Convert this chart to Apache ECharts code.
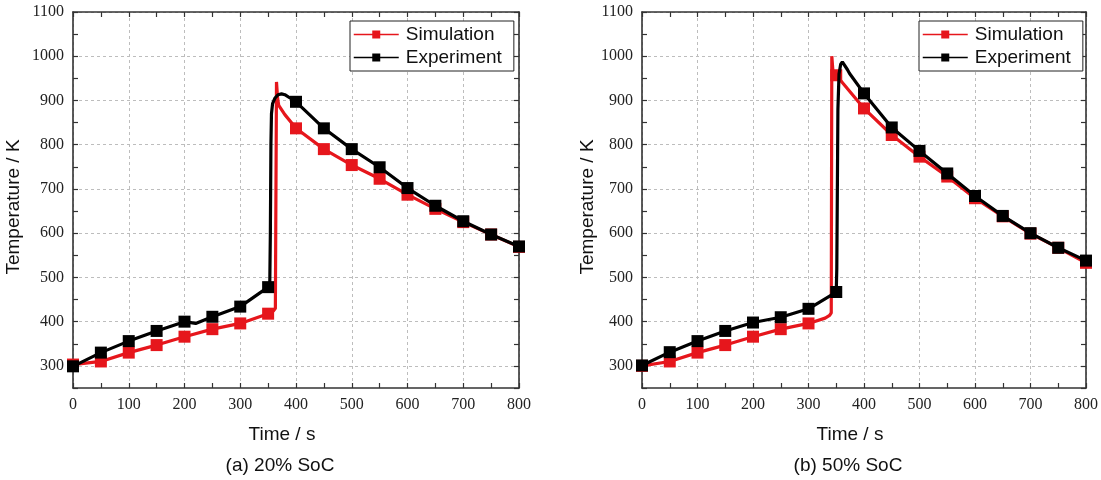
<!DOCTYPE html>
<html>
<head>
<meta charset="utf-8">
<script src="https://cdn.jsdelivr.net/npm/echarts@6/dist/echarts.min.js"></script>
<style>
  html, body { margin: 0; padding: 0; background: #fff; }
  #chart { width: 1101px; height: 480px; }
</style>
</head>
<body>
<div id="chart"></div>
<script>
// ---- data: temperature (K) vs time (s); square markers every 50 s ----
// (a) 20% SoC
const simA_time = [0, 50, 100, 150, 200, 250, 300, 350, 355, 360, 363, 365, 367, 369, 380, 400, 450, 500, 550, 600, 650, 700, 750, 800];
const simA_temp = [303, 310, 330, 347, 366, 383, 396, 418, 421, 425, 430, 942, 905, 889, 868, 837, 790, 754, 723, 687, 655, 625, 597, 569];
const expA_time = [0, 50, 100, 150, 200, 220, 250, 300, 350, 353, 354, 355, 356, 358, 362, 368, 374, 380, 390, 400, 450, 500, 550, 600, 650, 700, 750, 800];
const expA_temp = [299, 330, 356, 379, 400, 396, 411, 434, 478, 490, 600, 800, 870, 893, 905, 913, 915, 913, 905, 897, 837, 790, 749, 702, 662, 627, 597, 570];
// (b) 50% SoC
const simB_time = [0, 50, 100, 150, 200, 250, 300, 330, 338, 341, 342, 345, 350, 400, 450, 500, 550, 600, 650, 700, 750, 800];
const simB_temp = [300, 310, 330, 347, 366, 383, 396, 408, 414, 420, 1000, 950, 957, 882, 822, 773, 728, 679, 638, 599, 567, 533];
const expB_time = [0, 50, 100, 150, 200, 250, 300, 350, 351, 352, 353, 355, 358, 361, 364, 370, 374, 400, 450, 500, 550, 600, 650, 700, 750, 800];
const expB_temp = [301, 331, 356, 379, 398, 410, 429, 467, 520, 700, 880, 960, 982, 987, 984, 970, 961, 916, 839, 786, 735, 684, 639, 600, 567, 538];

const seriesNames = ['Simulation', 'Experiment'];
const panelTitles = ['(a) 20% SoC', '(b) 50% SoC'];
const xTitle = 'Time / s';
const yTitle = 'Temperature / K';

// axis ranges
const X_MIN = 0, X_MAX = 800, X_STEP = 50, X_LABEL_STEP = 100;
const Y_MIN = 250, Y_MAX = 1100, Y_STEP = 50, Y_LABEL_STEP = 100;

// ---- styling ----
const RED = '#e6161c';
const BLACK = '#000000';
const AXIS = '#333333';
const GRID = '#bdbdbd';
const NUM_FONT = 'Liberation Serif';
const TXT_FONT = 'Liberation Sans';

// marker only on the 50 s sampling points
function buildData(times, temps) {
  return times.map((t, i) => t % X_STEP === 0
    ? [t, temps[i]]
    : { value: [t, temps[i]], symbol: 'none' });
}

function frameAxis(dim, gi, pos, labels) {
  const isX = dim === 'x';
  const step = isX ? X_LABEL_STEP : Y_LABEL_STEP;
  return {
    gridIndex: gi, type: 'value', position: pos, z: 1,
    min: isX ? X_MIN : Y_MIN, max: isX ? X_MAX : Y_MAX, interval: isX ? X_STEP : Y_STEP,
    axisLine: { show: true, onZero: false, lineStyle: { color: AXIS, width: 1.6 } },
    axisTick: { show: true, inside: true, length: 5, lineStyle: { color: AXIS, width: 1.2 } },
    axisLabel: {
      show: labels, margin: 9, fontFamily: NUM_FONT, fontSize: 16, color: '#222',
      formatter: v => (v % step === 0 ? String(v) : '')
    },
    splitLine: { show: false }
  };
}

// dashed grid lines every 100 units, drawn beneath the frame
function gridAxis(dim, gi) {
  const isX = dim === 'x';
  return {
    gridIndex: gi, type: 'value', z: 0,
    min: isX ? X_MIN : Y_MIN, max: isX ? X_MAX : Y_MAX, interval: isX ? X_STEP : Y_STEP,
    axisLine: { show: false }, axisTick: { show: false }, axisLabel: { show: false },
    splitLine: {
      show: true,
      lineStyle: { width: 1, type: [3, 3], color: isX ? [GRID, 'rgba(0,0,0,0)'] : ['rgba(0,0,0,0)', GRID] }
    }
  };
}

const grids = [
  { left: 73, top: 12, width: 446, height: 376 },
  { left: 642, top: 12, width: 446, height: 376 }
];

const xAxes = [], yAxes = [];
grids.forEach((g, gi) => {
  xAxes.push(frameAxis('x', gi, 'bottom', true), frameAxis('x', gi, 'top', false), gridAxis('x', gi));
  yAxes.push(frameAxis('y', gi, 'left', true), frameAxis('y', gi, 'right', false), gridAxis('y', gi));
});

function lineSeries(name, color, gi, times, temps, z) {
  return {
    name, type: 'line', xAxisIndex: gi * 3, yAxisIndex: gi * 3, z,
    data: buildData(times, temps),
    symbol: 'rect', symbolSize: 12,
    lineStyle: { color, width: 3.2 }, itemStyle: { color },
    animation: false
  };
}

const series = [
  lineSeries(seriesNames[0], RED, 0, simA_time, simA_temp, 2),
  lineSeries(seriesNames[1], BLACK, 0, expA_time, expA_temp, 3),
  lineSeries(seriesNames[0], RED, 1, simB_time, simB_temp, 2),
  lineSeries(seriesNames[1], BLACK, 1, expB_time, expB_temp, 3)
];

function legendAt(left) {
  return {
    left, top: 21, orient: 'vertical', data: seriesNames,
    itemWidth: 45, itemHeight: 10, itemGap: 4,
    padding: [4, 12, 4, 3],
    borderColor: '#222', borderWidth: 1, backgroundColor: '#fff',
    selectedMode: false,
    lineStyle: { width: 1.5 },
    textStyle: { fontFamily: TXT_FONT, fontSize: 19, color: '#111', padding: [0, 0, 0, 2] }
  };
}

function label(text, x, y, rotate) {
  return {
    type: 'text', x, y, rotation: rotate ? Math.PI / 2 : 0,
    style: { text, fontFamily: TXT_FONT, fontSize: 19, fill: '#111', align: 'center', verticalAlign: 'middle' }
  };
}

const option = {
  animation: false,
  grid: grids,
  xAxis: xAxes,
  yAxis: yAxes,
  legend: [legendAt(350), legendAt(919)],
  series,
  graphic: [
    label(yTitle, 14, 207, true),
    label(yTitle, 588, 207, true),
    label(xTitle, 282, 435, false),
    label(xTitle, 850, 435, false),
    label(panelTitles[0], 280, 466, false),
    label(panelTitles[1], 848, 466, false)
  ]
};

const chart = echarts.init(document.getElementById('chart'), null, { renderer: 'canvas' });
chart.setOption(option);
</script>
</body>
</html>
